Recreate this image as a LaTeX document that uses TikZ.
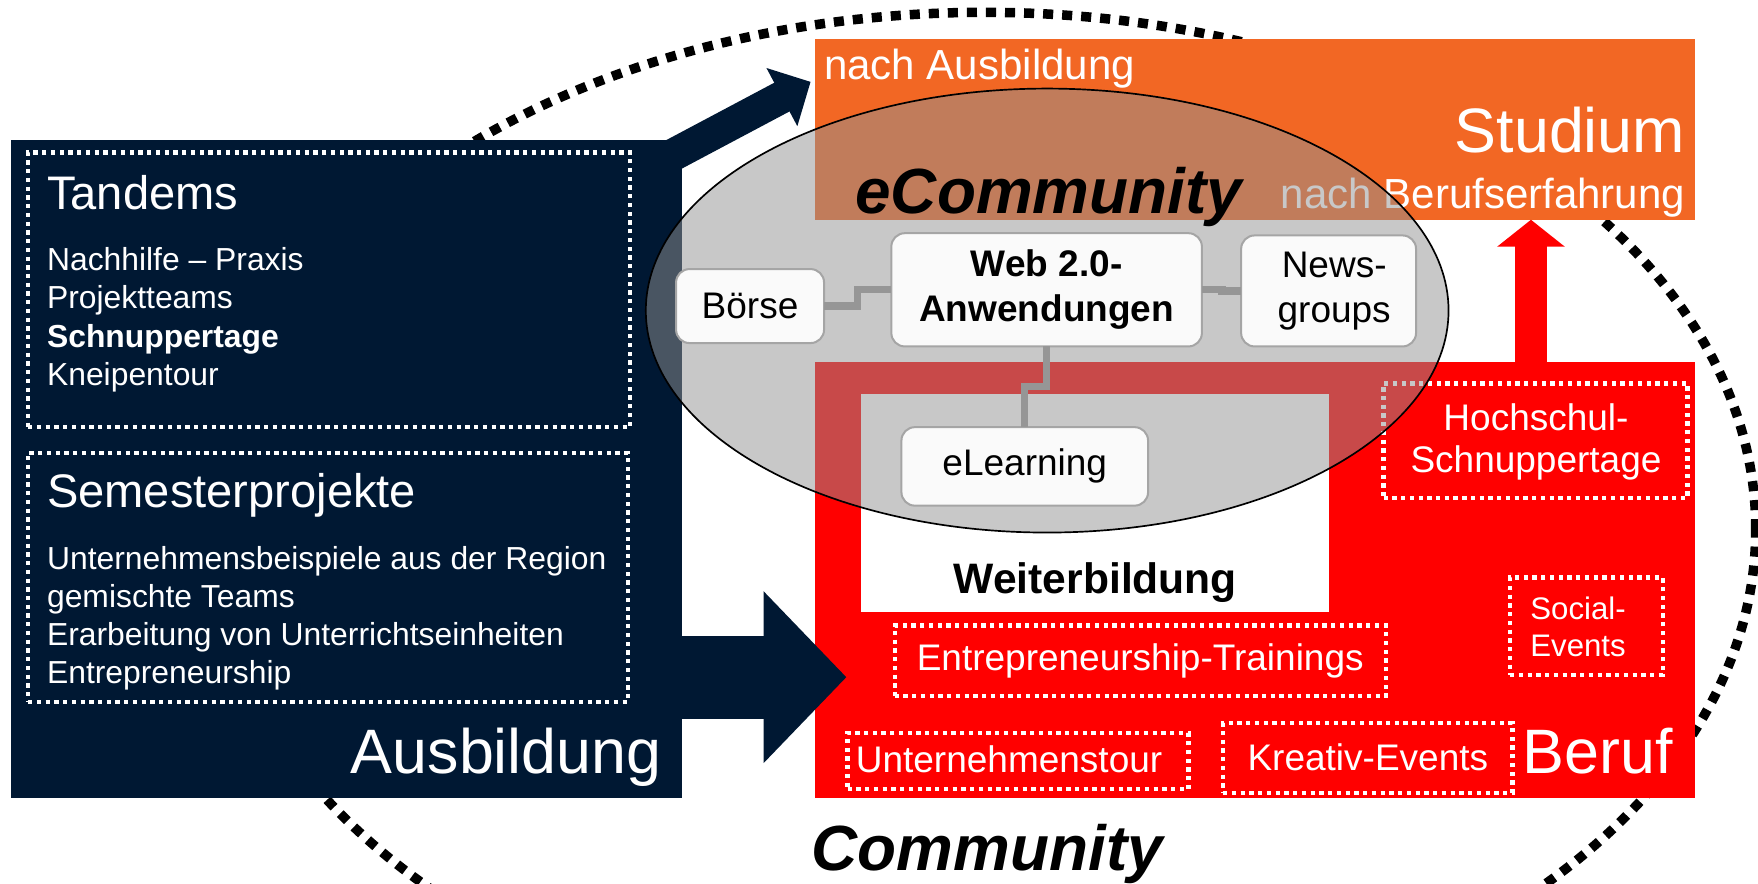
\documentclass[tikz,border=0pt]{standalone}
\usepackage{fontspec}
\setmainfont{Liberation Sans}
\usetikzlibrary{arrows.meta}

\definecolor{navy}{RGB}{0,24,51}
\definecolor{studorange}{RGB}{242,103,36}
\definecolor{linkgray}{RGB}{150,150,150}
\definecolor{cardfill}{RGB}{250,250,250}
\definecolor{cardline}{RGB}{165,165,165}
\definecolor{veil}{RGB}{146,146,146}

\newcommand{\sz}[2]{\fontsize{#1}{#2}\selectfont}

\tikzset{
  panel/.style={inner sep=0pt, outer sep=0pt, anchor=north west},
  wdots/.style={draw=white, line width=0.38mm, dash pattern=on 0.38mm off 0.4mm,
                inner sep=0pt, outer sep=0pt},
  card/.style={draw=cardline, line width=0.18mm, fill=cardfill, rounded corners=1.2mm,
               inner sep=0pt, outer sep=0pt, align=center, text=black},
  link/.style={draw=linkgray, line width=0.65mm},
  lbl/.style={inner sep=0pt, outer sep=0pt},
  wlbl/.style={lbl, text=white},
  listtxt/.style={wlbl, anchor=base west, font=\sz{8.08pt}{10pt}},
  headtxt/.style={wlbl, anchor=base west, font=\sz{11.95pt}{14pt}},
  bigtxt/.style={wlbl, font=\sz{15.93pt}{18pt}},
  midtxt/.style={wlbl, font=\sz{10.67pt}{12.5pt}},
  boxtxt/.style={wlbl, align=center, font=\sz{9.39pt}{10.81pt}},
  titletxt/.style={lbl, text=black, anchor=base west, font=\bfseries\itshape\sz{16.2pt}{19pt}},
}

\begin{document}
\begin{tikzpicture}[x=0.1mm, y=-0.1mm]
  \useasboundingbox (0,0) rectangle (1568,788);
  \fill[white] (0,0) rectangle (1568,788);

  % outer community ring
  \draw[line width=0.85mm, dash pattern=on 0.9mm off 0.8mm]
    (878,472) ellipse [x radius=68.8mm, y radius=46.1mm];

  % main panels
  \node[panel, fill=navy, minimum width=59.8mm, minimum height=58.7mm] (ausb) at (10,125) {};
  \node[panel, fill=studorange, minimum width=78.5mm, minimum height=16.1mm] (stud) at (727,35) {};
  \node[panel, fill=red, minimum width=78.5mm, minimum height=38.9mm] (beruf) at (727,323) {};
  \node[panel, fill=white, minimum width=41.7mm, minimum height=19.5mm] (weiter) at (768,351) {};

  % arrows between the panels
  \coordinate (upA) at (584.8,146.4);
  \coordinate (upB) at (723,73);
  \draw[navy, line width=2.9mm, -{Triangle[length=2.9mm, width=5.7mm]}] (upA) -- (upB);

  \coordinate (bigA) at (600,604);
  \coordinate (bigB) at (755,604);
  \draw[navy, line width=7.4mm, -{Triangle[length=7.4mm, width=14.9mm]}] (bigA) -- (bigB);

  \coordinate (redA) at (1365.5,330);
  \coordinate (redB) at (1365.5,196);
  \draw[red, line width=2.8mm, -{Triangle[length=2.4mm, width=5.9mm]}] (redA) -- (redB);

  % dotted frames
  \node[wdots, minimum width=53.7mm, minimum height=24.5mm] (tandbox) at (293.5,258.5) {};
  \node[wdots, minimum width=53.5mm, minimum height=22.2mm] (semebox) at (292.5,515) {};
  \node[wdots, minimum width=27.1mm, minimum height=10.2mm] (hochbox) at (1369.5,393) {};
  \node[wdots, minimum width=43.8mm, minimum height=6.3mm] (entrbox) at (1017,589.5) {};
  \node[wdots, minimum width=13.6mm, minimum height=8.7mm] (socbox) at (1415,558.5) {};
  \node[wdots, minimum width=30.4mm, minimum height=5.0mm] (tourbox) at (908,679) {};
  \node[wdots, minimum width=25.8mm, minimum height=6.2mm] (kreabox) at (1220,676) {};

  % Ausbildung texts
  \node[headtxt] (tandem) at (42,187) {Tandems};
  \node[listtxt] (t1) at (42,241) {Nachhilfe – Praxis};
  \node[listtxt] (t2) at (42,275) {Projektteams};
  \node[listtxt] (t3) at (42,310) {\textbf{Schnuppertage}};
  \node[listtxt] (t4) at (42,344) {Kneipentour};
  \node[headtxt] (seme) at (42,453) {Semesterprojekte};
  \node[listtxt] (s1) at (42,508) {Unternehmensbeispiele aus der Region};
  \node[listtxt] (s2) at (42,542) {gemischte Teams};
  \node[listtxt] (s3) at (42,576) {Erarbeitung von Unterrichtseinheiten};
  \node[listtxt] (s4) at (42,610) {Entrepreneurship};
  \node[bigtxt, anchor=base east] (ausbl) at (590,690) {Ausbildung};

  % Studium texts
  \node[midtxt, anchor=base west] (nachA) at (735,71) {nach Ausbildung};
  \node[bigtxt, anchor=base east] (studl) at (1503,136) {Studium};
  \node[midtxt, anchor=base east] (nachB) at (1503,186) {nach Berufserfahrung};

  % Beruf texts
  \node[lbl, anchor=base, text=black, font=\bfseries\sz{10.81pt}{13pt}] (weiterl) at (977,529) {Weiterbildung};
  \node[boxtxt] (hochl) at (1370,394) {Hochschul-\\Schnuppertage};
  \node[boxtxt] (entrl) at (1017,589.5) {Entrepreneurship-Trainings};
  \node[wlbl, anchor=west, align=left, font=\sz{7.91pt}{9.25pt}] (socl) at (1365,559) {Social-\\Events};
  \node[boxtxt] (tourl) at (900,677) {Unternehmenstour};
  \node[boxtxt] (kreal) at (1220,675) {Kreativ-Events};
  \node[bigtxt, anchor=base east] (berufl) at (1492,690) {Beruf};

  \node[titletxt] (comm) at (724,776) {Community};

  % eCommunity veil
  \path[fill=veil, fill opacity=0.5, draw=black, line width=0.15mm]
    (934,277) ellipse [x radius=35.8mm, y radius=19.8mm];

  % web application cards
  \node[card, minimum width=13.2mm, minimum height=6.6mm, font=\sz{9.39pt}{11pt}] (boerse) at (669,273) {Börse};
  \node[card, minimum width=27.7mm, minimum height=10.1mm, font=\bfseries\sz{9.39pt}{11.38pt}] (web) at (933.5,258.5) {Web 2.0-\\Anwendungen};
  \node[card, minimum width=15.6mm, minimum height=9.9mm, font=\sz{9.39pt}{11.38pt}] (news) at (1185,259.5) {\hspace{1mm}News-\\\hspace{1mm}groups};
  \node[card, minimum width=22mm, minimum height=7mm, font=\sz{9.39pt}{11pt}] (elearn) at (914,416) {eLearning};

  % links between the cards
  \draw[link] (boerse.east) -- ++(30,0) |- (web.west);
  \draw[link] (web.east) -- ++(18,0) |- (news.west);
  \draw[link] (web.south) -- ++(0,36) -| (elearn.north);

  \node[titletxt] (ecomm) at (763,190) {eCommunity};
\end{tikzpicture}
\end{document}
